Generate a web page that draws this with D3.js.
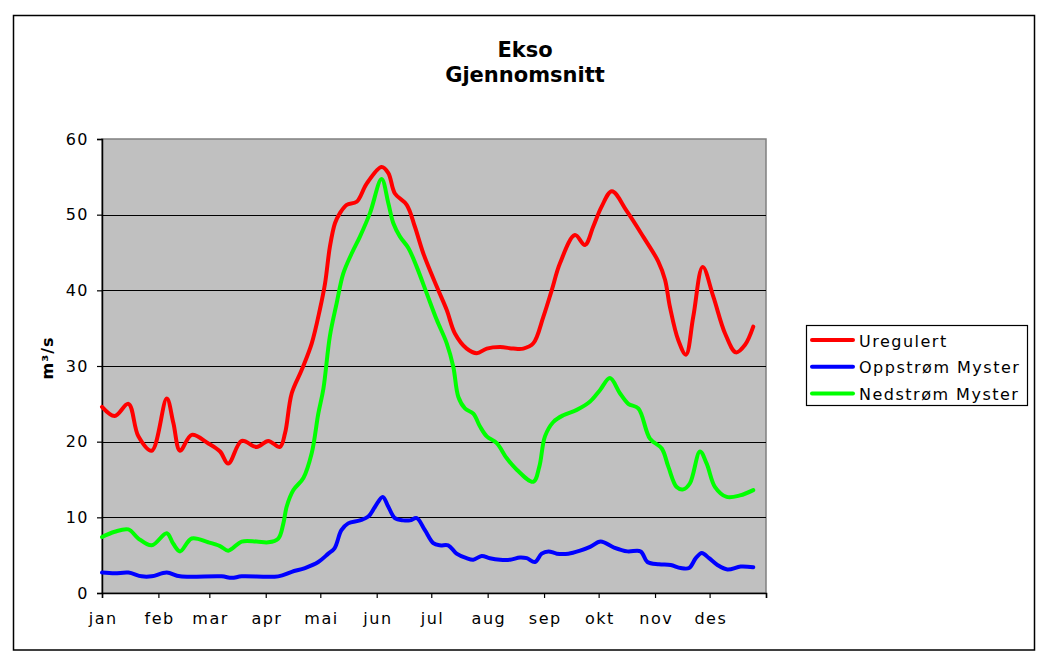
<!DOCTYPE html>
<html>
<head>
<meta charset="utf-8">
<script src="https://cdn.jsdelivr.net/npm/d3@7/dist/d3.min.js"></script>
<style>
  html, body { margin: 0; padding: 0; background: #ffffff; }
  svg { display: block; }
  text { font-family: "DejaVu Sans", Verdana, sans-serif; fill: #000; }
</style>
</head>
<body>
<svg id="chart" width="1060" height="669"></svg>
<script>
// ---- Data (day of year, m³/s) ----
const monthLabels = ["jan","feb","mar","apr","mai","jun","jul","aug","sep","okt","nov","des"];
const monthStarts = [0,31,59,90,120,151,181,212,243,273,304,334,365];
const yTicks = [0,10,20,30,40,50,60];
const seriesNames = ["Uregulert","Oppstrøm Myster","Nedstrøm Myster"];

const uregDays = [0,7,14.5,20,27.3,35.6,39.2,42.9,49.3,58.3,64.9,69.4,76.8,85,91.4,97.8,100.6,104.3,109.8,115.3,119.8,122.6,125.3,128.1,130.8,134.5,140,145.5,153.7,157.4,161,167.5,172,176.6,184,189.5,194,200.5,206,211.5,218.8,226.1,231.6,237.1,242.6,247.2,251.8,260,265.5,270,274.7,280.3,288.4,297.5,305.8,309.5,312.2,316.8,321,325,330.2,336,342.5,348.5,353.5,358];
const uregVals = [24.6,23.4,25.0,20.7,18.8,25.7,22.5,18.8,20.9,19.8,18.7,17.1,20.1,19.3,20.1,19.3,21.1,26.4,29.5,33.0,37.5,40.9,45.8,48.9,50.2,51.3,51.7,54.1,56.3,55.5,52.8,51.3,48.4,44.9,40.5,37.4,34.3,32.3,31.7,32.3,32.5,32.3,32.3,33.0,36.5,40.0,43.6,47.3,46.0,48.4,51.1,53.1,50.5,47.1,43.8,41.4,37.8,33.4,31.5,36.5,43.1,39.2,34.3,31.8,32.8,35.2];

const oppDays = [0,7,14.5,21.8,27.3,35.6,42.9,65.8,71.3,76.8,96.9,104.3,111.6,118.9,124.4,127.8,131.6,135.3,141.8,146.4,150.1,154.3,157.4,161,165.6,169.3,173,177.5,182.1,185.8,190.3,194.9,200.4,204.1,208.7,213.2,218.8,224.3,229.8,233.5,238,241.7,245.4,250,256.4,262.8,268.3,274.1,281.5,288.8,296.1,299.8,306.2,312.6,318.1,322.7,326.4,329.7,333.7,338.3,343.8,351.1,358];
const oppVals = [2.7,2.6,2.7,2.2,2.2,2.7,2.2,2.2,2.0,2.2,2.2,2.8,3.3,4.1,5.2,5.9,8.3,9.2,9.6,10.1,11.4,12.7,11.4,9.9,9.6,9.6,9.9,8.3,6.6,6.3,6.3,5.2,4.6,4.4,4.9,4.6,4.4,4.4,4.7,4.6,4.1,5.2,5.5,5.2,5.2,5.6,6.1,6.8,6.0,5.5,5.5,4.1,3.8,3.7,3.3,3.3,4.6,5.3,4.6,3.7,3.1,3.5,3.4];

const nedDays = [0,7,14.5,20,27.3,35.6,39.2,42.9,49.3,58.4,64.9,69.4,76.8,85,91.4,96.9,99.7,101.5,105.2,110.7,115.3,118.9,121.7,125.3,129,132.6,137.3,141.8,147.3,153.7,157.4,160.1,163.8,168.4,173,178.5,184,189.5,193.1,195.9,199.5,204.1,207.8,211.5,217,222.5,228,237.1,240.4,243.5,248.1,253.6,261,268.3,273.7,279.2,284.7,289.3,294.8,301.2,307.7,311.3,315.9,319.5,323.2,328.7,332.4,337,343.4,350.7,358];
const nedVals = [7.4,8.1,8.4,7.2,6.3,7.9,6.5,5.5,7.2,6.7,6.2,5.6,6.8,6.8,6.7,7.2,9.2,11.4,13.6,15.2,18.5,23.7,27.0,34.0,38.3,42.2,44.9,47.1,50.2,54.7,51.5,48.9,47.1,45.6,43.1,39.6,36.1,33.0,29.9,25.9,24.4,23.7,22.0,20.7,19.8,17.8,16.3,14.7,16.7,20.7,22.6,23.5,24.2,25.3,26.8,28.4,26.4,25.0,24.4,20.4,19.1,16.7,14.0,13.7,14.5,18.7,17.1,14.0,12.7,12.9,13.6];

const colors = ["#ff0000","#0000ff","#00ff00"];

// ---- Layout ----
const svg = d3.select("#chart");
const plot = { left: 102, right: 766, top: 139, bottom: 593 };

const x = d3.scaleLinear().domain([0, 365]).range([plot.left, plot.right]);
const y = d3.scaleLinear().domain([0, 60]).range([plot.bottom, plot.top]);

// outer border
svg.append("rect")
  .attr("x", 13.5).attr("y", 15.5).attr("width", 1021).attr("height", 634.5)
  .attr("fill", "#ffffff").attr("stroke", "#000").attr("stroke-width", 1.5);

// title
svg.append("text").attr("x", 525).attr("y", 57).attr("text-anchor", "middle")
  .attr("font-size", 21).attr("font-weight", "bold").text("Ekso");
svg.append("text").attr("x", 525).attr("y", 82).attr("text-anchor", "middle")
  .attr("font-size", 21).attr("font-weight", "bold").text("Gjennomsnitt");

// plot background
svg.append("rect")
  .attr("x", plot.left).attr("y", plot.top)
  .attr("width", plot.right - plot.left).attr("height", plot.bottom - plot.top)
  .attr("fill", "#c0c0c0").attr("stroke", "#808080").attr("stroke-width", 1.5);

// gridlines
svg.append("g").selectAll("line")
  .data(yTicks.filter(d => d > 0 && d < 60))
  .join("line")
  .attr("x1", plot.left).attr("x2", plot.right)
  .attr("y1", d => Math.round(y(d)) + 0.5).attr("y2", d => Math.round(y(d)) + 0.5)
  .attr("stroke", "#000").attr("stroke-width", 1);

// axes
const yAxis = d3.axisLeft(y).tickValues(yTicks).tickSize(5).tickPadding(8).tickFormat(d3.format("d"));
const gy = svg.append("g").attr("transform", `translate(${plot.left},0)`).call(yAxis);
const xAxis = d3.axisBottom(x).tickValues(monthStarts).tickSize(5).tickPadding(15)
  .tickFormat((d, i) => monthLabels[i] || "");
const gx = svg.append("g").attr("transform", `translate(0,${plot.bottom})`).call(xAxis);

[gx, gy].forEach(g => {
  g.select(".domain").attr("stroke", "#000").attr("stroke-width", 1.5);
  g.selectAll(".tick line").attr("stroke", "#000").attr("stroke-width", 1.2);
  g.selectAll(".tick text").attr("font-size", 16).attr("letter-spacing", "1.5px")
    .attr("font-family", "DejaVu Sans, Verdana, sans-serif").attr("fill", "#000");
});
gx.selectAll(".tick text").attr("dx", "0.7px");

// y axis title
svg.append("text")
  .attr("transform", "translate(53,358) rotate(-90)")
  .attr("text-anchor", "middle")
  .attr("font-size", 16).attr("font-weight", "bold").attr("letter-spacing", "1px")
  .text("m³/s");

// lines
const line = d3.line().x(d => x(d[0])).y(d => y(d[1])).curve(d3.curveCatmullRom.alpha(0.5));
const seriesData = [
  d3.zip(uregDays, uregVals),
  d3.zip(oppDays, oppVals),
  d3.zip(nedDays, nedVals)
];
svg.append("g").selectAll("path")
  .data(seriesData)
  .join("path")
  .attr("d", line)
  .attr("fill", "none")
  .attr("stroke", (d, i) => colors[i])
  .attr("stroke-width", 4)
  .attr("stroke-linejoin", "round")
  .attr("stroke-linecap", "round");

// legend
const lg = svg.append("g");
lg.append("rect").attr("x", 806.5).attr("y", 325.5).attr("width", 221).attr("height", 80)
  .attr("fill", "#fff").attr("stroke", "#000").attr("stroke-width", 1.2);
const rows = lg.selectAll("g.row").data(seriesNames).join("g")
  .attr("transform", (d, i) => `translate(0,${340 + i * 26.7})`);
rows.append("line").attr("x1", 812).attr("x2", 853).attr("y1", 0).attr("y2", 0)
  .attr("stroke", (d, i) => colors[i]).attr("stroke-width", 4).attr("stroke-linecap", "round");
rows.append("text").attr("x", 859).attr("y", 6.5).attr("font-size", 16)
  .attr("letter-spacing", "1.5px").text(d => d);
</script>
</body>
</html>
